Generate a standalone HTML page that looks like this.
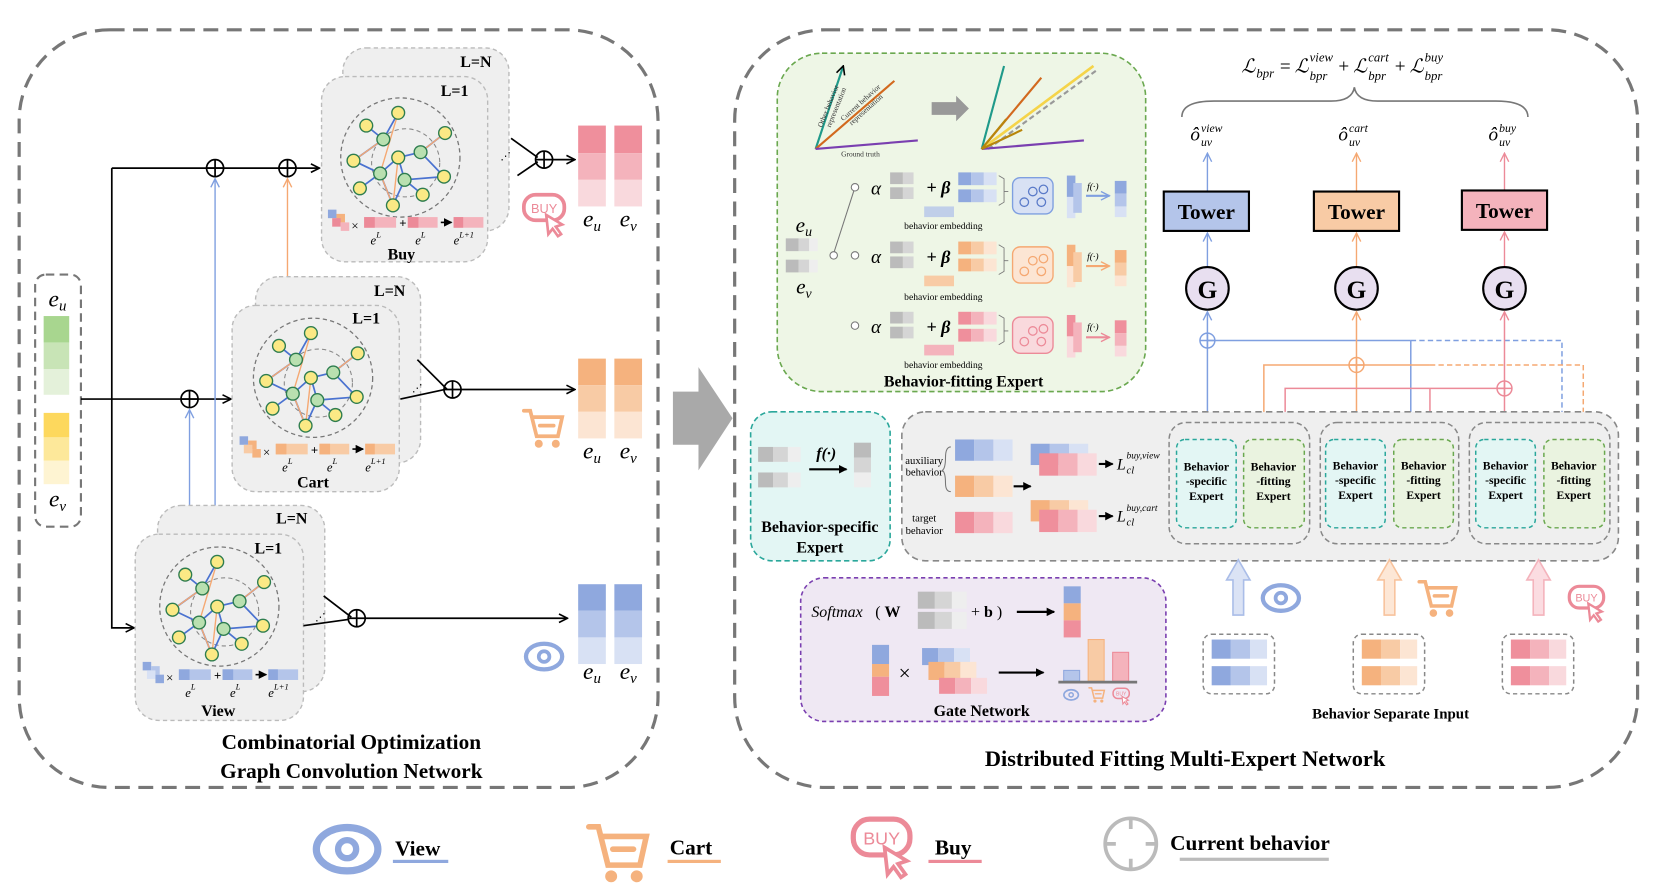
<!DOCTYPE html>
<html><head><meta charset="utf-8"><style>
html,body{margin:0;padding:0;background:#fff;}
svg{display:block;}
text{font-family:"Liberation Serif",serif;}
.b{font-weight:bold;}
.i{font-style:italic;}
.sans{font-family:"Liberation Sans",sans-serif;}
</style></head><body>
<svg width="1661" height="896" viewBox="0 0 1560 842" preserveAspectRatio="none" xmlns="http://www.w3.org/2000/svg">
<defs>
<marker id="ak" markerWidth="10" markerHeight="10" refX="9" refY="5" orient="auto" markerUnits="userSpaceOnUse"><path d="M1,1 L9,5 L1,9" fill="none" stroke="#000" stroke-width="1.5"/></marker>
<marker id="ab" markerWidth="10" markerHeight="10" refX="9" refY="5" orient="auto" markerUnits="userSpaceOnUse"><path d="M1,1 L9,5 L1,9" fill="none" stroke="#7f9fe0" stroke-width="1.3"/></marker>
<marker id="ao" markerWidth="10" markerHeight="10" refX="9" refY="5" orient="auto" markerUnits="userSpaceOnUse"><path d="M1,1 L9,5 L1,9" fill="none" stroke="#f5a872" stroke-width="1.3"/></marker>
<marker id="ap" markerWidth="10" markerHeight="10" refX="9" refY="5" orient="auto" markerUnits="userSpaceOnUse"><path d="M1,1 L9,5 L1,9" fill="none" stroke="#ec8a98" stroke-width="1.3"/></marker>
<marker id="af" markerWidth="8" markerHeight="8" refX="7" refY="4" orient="auto" markerUnits="userSpaceOnUse"><path d="M0,0 L8,4 L0,8z" fill="#000"/></marker>
<g id="graph">
<circle r="56" fill="none" stroke="#777" stroke-dasharray="4 3" stroke-width="1.2"/>
<circle cx="5" cy="5" r="32" fill="none" stroke="#888" stroke-dasharray="4 3" stroke-width="1"/>
<g stroke="#4a72d0" stroke-width="1.6" fill="none">
<path d="M-2,-42 L-16,-17 L-44,3 M-32,-30 L-16,-17 M42,-23 L19,-5 L-2,0 L-19,15 L-44,3 M19,-5 L41,18 M-19,15 L-38,29 M-19,15 L-7,45 L4,21 L41,18 M4,21 L21,35 M-2,0 L4,21"/>
</g>
<g stroke="#f5a872" stroke-width="1.3" fill="none"><path d="M-2,-42 L-19,15 M-44,3 L-16,-17 M42,-23 L19,-5 M-2,0 L-7,45 M-19,15 L-7,45"/></g>
<g stroke="#2e7d4f" stroke-width="1.3">
<circle cx="-2" cy="-42" r="6" fill="#fbe985"/><circle cx="-32" cy="-30" r="6" fill="#fbe985"/><circle cx="42" cy="-23" r="6" fill="#fbe985"/>
<circle cx="-16" cy="-17" r="6" fill="#b9e0b0"/><circle cx="19" cy="-5" r="6" fill="#b9e0b0"/><circle cx="-2" cy="0" r="6" fill="#fbe985"/>
<circle cx="-44" cy="3" r="6" fill="#fbe985"/><circle cx="-19" cy="15" r="6" fill="#b9e0b0"/><circle cx="4" cy="21" r="6" fill="#b9e0b0"/>
<circle cx="41" cy="18" r="6" fill="#fbe985"/><circle cx="-38" cy="29" r="6" fill="#fbe985"/><circle cx="21" cy="35" r="6" fill="#fbe985"/><circle cx="-7" cy="45" r="6" fill="#fbe985"/>
</g>
</g>
<g id="eye"><ellipse rx="17" ry="12" fill="none" stroke="#8fa8de" stroke-width="4"/><circle r="5" fill="none" stroke="#8fa8de" stroke-width="3.5"/></g>
<g id="cart" fill="none" stroke="#f5b27e" stroke-width="3.5" stroke-linecap="round"><path d="M-18,-14 L-12,-14 L-6,10 L14,10 L18,-8 L-10,-8"/><path d="M-3,0 L10,0"/><circle cx="-4" cy="17" r="2" fill="#f5b27e"/><circle cx="12" cy="17" r="2" fill="#f5b27e"/></g>
<g id="buy"><rect x="-19" y="-13" width="38" height="24" rx="11" fill="none" stroke="#ec8a98" stroke-width="3.5"/><text x="0" y="4" text-anchor="middle" font-size="12" fill="#ec8a98" class="sans">BUY</text><path d="M2,6 L4,24 L8,19 L13,26 L16,24 L11,17 L17,15z" fill="#fff" stroke="#ec8a98" stroke-width="2.5"/></g>
<g id="cross"><circle r="7" fill="none" stroke-width="1.4"/><path d="M-7,0 L7,0 M0,-7 L0,7" stroke-width="1.4"/></g>
</defs>

<!-- LEFT PANEL -->
<rect x="18" y="28" width="600" height="712" rx="85" fill="none" stroke="#777" stroke-width="3" stroke-dasharray="14 8"/>
<text x="330" y="704" text-anchor="middle" class="b" font-size="20">Combinatorial Optimization</text>
<text x="330" y="731" text-anchor="middle" class="b" font-size="20">Graph Convolution Network</text>

<rect x="33" y="258" width="43" height="237" rx="10" fill="#fff" stroke="#777" stroke-width="2" stroke-dasharray="8 5"/>
<text x="54" y="288" text-anchor="middle" class="i" font-size="22">e<tspan font-size="14" dy="4">u</tspan></text>
<rect x="41" y="297" width="24" height="25" fill="#a8d68f"/><rect x="41" y="322" width="24" height="25" fill="#c8e4b6"/><rect x="41" y="347" width="24" height="24" fill="#e4f1da"/>
<rect x="41" y="388" width="24" height="23" fill="#fdd85d"/><rect x="41" y="411" width="24" height="22" fill="#fde89a"/><rect x="41" y="433" width="24" height="22" fill="#fef4d2"/>
<text x="54" y="476" text-anchor="middle" class="i" font-size="22">e<tspan font-size="14" dy="4">v</tspan></text>

<g stroke="#000" stroke-width="1.6" fill="none">
<path d="M76,375 L217,375" marker-end="url(#ak)"/>
<path d="M105,158 L105,590 L126,590" marker-end="url(#ak)"/>
<path d="M105,158 L300,158" marker-end="url(#ak)"/>
<circle cx="202" cy="158" r="8"/><path d="M194,158 L210,158 M202,150 L202,166"/>
<circle cx="270" cy="158" r="8"/><path d="M262,158 L278,158 M270,150 L270,166"/>
<circle cx="178" cy="375" r="8"/><path d="M170,375 L186,375 M178,367 L178,383"/>
</g>
<path d="M202,475 L202,168" stroke="#7f9fe0" stroke-width="1.3" marker-end="url(#ab)"/>
<path d="M178,475 L178,385" stroke="#7f9fe0" stroke-width="1.3" marker-end="url(#ab)"/>
<path d="M270,262 L270,168" stroke="#f5a872" stroke-width="1.3" marker-end="url(#ao)"/>

<g stroke="#bbb" stroke-width="1.3" stroke-dasharray="4 3" fill="#efefef">
<rect x="322" y="45" width="156" height="172" rx="22"/>
<rect x="302" y="72" width="156" height="174" rx="22"/>
<rect x="240" y="260" width="155" height="175" rx="22"/>
<rect x="218" y="287" width="157" height="175" rx="22"/>
<rect x="148" y="475" width="157" height="175" rx="22"/>
<rect x="127" y="502" width="158" height="175" rx="22"/>
</g>
<g class="b" font-size="15">
<text x="447" y="63" text-anchor="middle">L=N</text><text x="427" y="90" text-anchor="middle">L=1</text>
<text x="366" y="278" text-anchor="middle">L=N</text><text x="344" y="304" text-anchor="middle">L=1</text>
<text x="274" y="492" text-anchor="middle">L=N</text><text x="252" y="520" text-anchor="middle">L=1</text>
<text x="377" y="244" text-anchor="middle">Buy</text><text x="294" y="458" text-anchor="middle">Cart</text><text x="205" y="673" text-anchor="middle">View</text>
</g>
<use href="#graph" x="376" y="148"/>
<use href="#graph" x="294" y="355"/>
<use href="#graph" x="206" y="570"/>

<g font-size="12">
<g transform="translate(308,197)">
<rect x="0" y="0" width="8" height="8" fill="#8fa8de"/><rect x="8" y="4" width="8" height="8" fill="#f5b27e"/><rect x="4" y="8" width="8" height="8" fill="#ec8a98"/><rect x="12" y="12" width="8" height="8" fill="#f4b3bc"/>
<text x="22" y="19">×</text><rect x="34" y="7" width="30" height="10" fill="#f4b3bc"/><rect x="34" y="7" width="10" height="10" fill="#ec8a98"/>
<text x="67" y="17" class="b">+</text><rect x="75" y="7" width="28" height="10" fill="#f4b3bc"/><rect x="75" y="7" width="10" height="10" fill="#ec8a98"/>
<path d="M106,12 L116,12" stroke="#000" stroke-width="1.5" marker-end="url(#af)"/><rect x="118" y="7" width="28" height="10" fill="#f4b3bc"/><rect x="118" y="7" width="9" height="10" fill="#ec8a98"/>
<text x="40" y="33" class="i">e<tspan font-size="8" dy="-7">L</tspan></text><text x="82" y="33" class="i">e<tspan font-size="8" dy="-7">L</tspan></text><text x="118" y="33" class="i">e<tspan font-size="8" dy="-7">L+1</tspan></text>
</g>
<g transform="translate(225,410)">
<rect x="0" y="0" width="8" height="8" fill="#8fa8de"/><rect x="8" y="4" width="8" height="8" fill="#f5b27e"/><rect x="4" y="8" width="8" height="8" fill="#f8cba5"/><rect x="12" y="12" width="8" height="8" fill="#f5b27e"/>
<text x="22" y="19">×</text><rect x="34" y="7" width="30" height="10" fill="#f8cba5"/><rect x="34" y="7" width="10" height="10" fill="#f5b27e"/>
<text x="67" y="17" class="b">+</text><rect x="75" y="7" width="28" height="10" fill="#f8cba5"/><rect x="75" y="7" width="10" height="10" fill="#f5b27e"/>
<path d="M106,12 L116,12" stroke="#000" stroke-width="1.5" marker-end="url(#af)"/><rect x="118" y="7" width="28" height="10" fill="#f8cba5"/><rect x="118" y="7" width="9" height="10" fill="#f5b27e"/>
<text x="40" y="33" class="i">e<tspan font-size="8" dy="-7">L</tspan></text><text x="82" y="33" class="i">e<tspan font-size="8" dy="-7">L</tspan></text><text x="118" y="33" class="i">e<tspan font-size="8" dy="-7">L+1</tspan></text>
</g>
<g transform="translate(134,622)">
<rect x="0" y="0" width="8" height="8" fill="#8fa8de"/><rect x="8" y="4" width="8" height="8" fill="#b4c5ea"/><rect x="4" y="8" width="8" height="8" fill="#d8e1f4"/><rect x="12" y="12" width="8" height="8" fill="#8fa8de"/>
<text x="22" y="19">×</text><rect x="34" y="7" width="30" height="10" fill="#b4c5ea"/><rect x="34" y="7" width="10" height="10" fill="#8fa8de"/>
<text x="67" y="17" class="b">+</text><rect x="75" y="7" width="28" height="10" fill="#b4c5ea"/><rect x="75" y="7" width="10" height="10" fill="#8fa8de"/>
<path d="M106,12 L116,12" stroke="#000" stroke-width="1.5" marker-end="url(#af)"/><rect x="118" y="7" width="28" height="10" fill="#b4c5ea"/><rect x="118" y="7" width="9" height="10" fill="#8fa8de"/>
<text x="40" y="33" class="i">e<tspan font-size="8" dy="-7">L</tspan></text><text x="82" y="33" class="i">e<tspan font-size="8" dy="-7">L</tspan></text><text x="118" y="33" class="i">e<tspan font-size="8" dy="-7">L+1</tspan></text>
</g>
</g>

<g stroke="#000" stroke-width="1.6" fill="none">
<path d="M480,130 L505,148 M486,165 L505,152"/><path d="M519,150 L540,150" marker-end="url(#ak)"/>
<circle cx="511" cy="150" r="8"/><path d="M503,150 L519,150 M511,142 L511,158"/>
<path d="M392,338 L420,366 M376,375 L418,366"/><path d="M433,366 L540,366" marker-end="url(#ak)"/>
<circle cx="425" cy="366" r="8"/><path d="M417,366 L433,366 M425,358 L425,374"/>
<path d="M304,560 L330,580 M285,588 L328,582"/><path d="M343,581 L533,581" marker-end="url(#ak)"/>
<circle cx="335" cy="581" r="8"/><path d="M327,581 L343,581 M335,573 L335,589"/>
</g>
<text x="470" y="150" font-size="10">⋰</text><text x="387" y="368" font-size="10">⋰</text><text x="296" y="583" font-size="10">⋰</text>
<g>
<rect x="543" y="118" width="26" height="26" fill="#ef8f9c"/><rect x="543" y="144" width="26" height="25" fill="#f4b3bc"/><rect x="543" y="169" width="26" height="25" fill="#f9d9dd"/>
<rect x="577" y="118" width="26" height="26" fill="#ef8f9c"/><rect x="577" y="144" width="26" height="25" fill="#f4b3bc"/><rect x="577" y="169" width="26" height="25" fill="#f9d9dd"/>
<rect x="543" y="337" width="26" height="25" fill="#f5b27e"/><rect x="543" y="362" width="26" height="25" fill="#f8cba5"/><rect x="543" y="387" width="26" height="25" fill="#fce5d3"/>
<rect x="577" y="337" width="26" height="25" fill="#f5b27e"/><rect x="577" y="362" width="26" height="25" fill="#f8cba5"/><rect x="577" y="387" width="26" height="25" fill="#fce5d3"/>
<rect x="543" y="549" width="26" height="25" fill="#8fa8de"/><rect x="543" y="574" width="26" height="25" fill="#b4c5ea"/><rect x="543" y="599" width="26" height="25" fill="#d8e1f4"/>
<rect x="577" y="549" width="26" height="25" fill="#8fa8de"/><rect x="577" y="574" width="26" height="25" fill="#b4c5ea"/><rect x="577" y="599" width="26" height="25" fill="#d8e1f4"/>
</g>
<g class="i" font-size="22" text-anchor="middle">
<text x="556" y="213">e<tspan font-size="14" dy="4">u</tspan></text><text x="590" y="213">e<tspan font-size="14" dy="4">v</tspan></text>
<text x="556" y="431">e<tspan font-size="14" dy="4">u</tspan></text><text x="590" y="431">e<tspan font-size="14" dy="4">v</tspan></text>
<text x="556" y="638">e<tspan font-size="14" dy="4">u</tspan></text><text x="590" y="638">e<tspan font-size="14" dy="4">v</tspan></text>
</g>
<use href="#buy" x="511" y="196"/>
<use href="#cart" x="510" y="400"/>
<use href="#eye" x="511" y="617"/>

<path d="M632,368 L656,368 L656,345 L688,393 L656,442 L656,418 L632,418z" fill="#a9a9a9"/>

<!-- RIGHT PANEL -->
<rect x="690" y="28" width="848" height="712" rx="85" fill="none" stroke="#777" stroke-width="3" stroke-dasharray="14 8"/>
<text x="1113" y="720" text-anchor="middle" class="b" font-size="21">Distributed Fitting Multi-Expert Network</text>

<rect x="730" y="50" width="346" height="318" rx="42" fill="#eef6e6" stroke="#6aa84f" stroke-width="1.5" stroke-dasharray="5 3"/>
<text x="905" y="363" text-anchor="middle" class="b" font-size="15">Behavior-fitting Expert</text>
<g stroke-width="2" fill="none">
<path d="M766,140 L792,62" stroke="#1f9a8a" marker-end="url(#ak)"/>
<path d="M766,140 L840,76" stroke="#d2691e"/>
<path d="M766,140 L862,132" stroke="#7a3fb0"/>
<path d="M922,140 L943,62" stroke="#1f9a8a"/>
<path d="M922,140 L978,73" stroke="#d2691e"/>
<path d="M922,140 L1027,62" stroke="#f5d44a" stroke-width="2.5"/>
<path d="M928,140 L1030,66" stroke="#999" stroke-dasharray="5 3"/>
<path d="M922,140 L1018,132" stroke="#7a3fb0"/>
<path d="M922,140 L945,112" stroke="#b8860b"/><path d="M922,140 L960,122" stroke="#b8860b"/>
</g>
<g font-size="7" fill="#333"><text transform="translate(772,120) rotate(-68)">Other behavior</text><text transform="translate(780,120) rotate(-68)">representation</text>
<text transform="translate(792,114) rotate(-42)">Current behavior</text><text transform="translate(800,118) rotate(-42)">representation</text>
<text x="790" y="147">Ground truth</text></g>
<path d="M875,96 L898,96 L898,90 L910,102 L898,114 L898,108 L875,108z" fill="#999"/>

<text x="755" y="218" text-anchor="middle" class="i" font-size="20">e<tspan font-size="13" dy="4">u</tspan></text>
<rect x="738" y="224" width="12" height="12" fill="#bbb"/><rect x="750" y="224" width="10" height="12" fill="#d5d5d5"/><rect x="760" y="224" width="8" height="12" fill="#eee"/>
<rect x="738" y="244" width="12" height="12" fill="#bbb"/><rect x="750" y="244" width="10" height="12" fill="#d5d5d5"/><rect x="760" y="244" width="8" height="12" fill="#eee"/>
<text x="755" y="276" text-anchor="middle" class="i" font-size="20">e<tspan font-size="13" dy="4">v</tspan></text>
<path d="M783,238 L803,176" stroke="#777" fill="none"/>
<circle cx="783" cy="240" r="3.5" fill="#fff" stroke="#777"/>

<g>
<circle cx="803" cy="176" r="3.5" fill="#fff" stroke="#777"/>
<text x="818" y="183" class="i" font-size="18">α</text>
<rect x="836" y="162" width="12" height="11" fill="#bbb"/><rect x="848" y="162" width="10" height="11" fill="#d5d5d5"/>
<rect x="836" y="176" width="12" height="11" fill="#bbb"/><rect x="848" y="176" width="10" height="11" fill="#d5d5d5"/>
<text x="870" y="182" class="b i" font-size="17">+ β</text>
<rect x="900" y="162" width="12" height="12" fill="#8fa8de"/><rect x="912" y="162" width="12" height="12" fill="#b4c5ea"/><rect x="924" y="162" width="12" height="12" fill="#d8e1f4"/>
<rect x="900" y="178" width="12" height="12" fill="#8fa8de"/><rect x="912" y="178" width="12" height="12" fill="#b4c5ea"/><rect x="924" y="178" width="12" height="12" fill="#d8e1f4"/>
<rect x="868" y="194" width="28" height="10" fill="#b4c5ea" opacity="0.8"/>
<path d="M938,165 L943,168 L943,190 L938,193 M943,180 L947,180" fill="none" stroke="#777" stroke-width="0.8"/>
<rect x="951" y="167" width="38" height="34" rx="7" fill="#d8e1f4" stroke="#7f9fe0" stroke-width="1.3"/>
<g fill="none" stroke="#5a7ac8" stroke-width="1.2"><circle cx="962" cy="190" r="4"/><circle cx="970" cy="180" r="4"/><circle cx="980" cy="178" r="4"/><circle cx="978" cy="190" r="4"/></g>
<rect x="1002" y="165" width="8" height="40" fill="#d8e1f4"/><rect x="1002" y="165" width="8" height="20" fill="#8fa8de"/><rect x="1008" y="172" width="8" height="28" fill="#b4c5ea"/>
<text x="1021" y="178" font-size="9" class="i">f(·)</text>
<path d="M1020,184 L1042,184" stroke="#7f9fe0" stroke-width="2" marker-end="url(#ab)"/>
<rect x="1047" y="170" width="11" height="12" fill="#8fa8de"/><rect x="1047" y="182" width="11" height="12" fill="#b4c5ea"/><rect x="1047" y="194" width="11" height="10" fill="#d8e1f4"/>
<text x="886" y="215" text-anchor="middle" font-size="9">behavior embedding</text>
</g>
<g>
<circle cx="803" cy="240" r="3.5" fill="#fff" stroke="#777"/>
<text x="818" y="247" class="i" font-size="18">α</text>
<rect x="836" y="227" width="12" height="11" fill="#bbb"/><rect x="848" y="227" width="10" height="11" fill="#d5d5d5"/>
<rect x="836" y="241" width="12" height="11" fill="#bbb"/><rect x="848" y="241" width="10" height="11" fill="#d5d5d5"/>
<text x="870" y="247" class="b i" font-size="17">+ β</text>
<rect x="900" y="227" width="12" height="12" fill="#f5b27e"/><rect x="912" y="227" width="12" height="12" fill="#f8cba5"/><rect x="924" y="227" width="12" height="12" fill="#fce5d3"/>
<rect x="900" y="243" width="12" height="12" fill="#f5b27e"/><rect x="912" y="243" width="12" height="12" fill="#f8cba5"/><rect x="924" y="243" width="12" height="12" fill="#fce5d3"/>
<rect x="868" y="259" width="28" height="10" fill="#f8cba5"/>
<path d="M938,230 L943,233 L943,255 L938,258 M943,245 L947,245" fill="none" stroke="#777" stroke-width="0.8"/>
<rect x="951" y="232" width="38" height="34" rx="7" fill="#fce5d3" stroke="#f5a872" stroke-width="1.3"/>
<g fill="none" stroke="#f5a872" stroke-width="1.2"><circle cx="962" cy="255" r="4"/><circle cx="970" cy="245" r="4"/><circle cx="980" cy="243" r="4"/><circle cx="978" cy="255" r="4"/></g>
<rect x="1002" y="230" width="8" height="40" fill="#fce5d3"/><rect x="1002" y="230" width="8" height="20" fill="#f5b27e"/><rect x="1008" y="237" width="8" height="28" fill="#f8cba5"/>
<text x="1021" y="244" font-size="9" class="i">f(·)</text>
<path d="M1020,250 L1042,250" stroke="#f5a872" stroke-width="2" marker-end="url(#ao)"/>
<rect x="1047" y="235" width="11" height="12" fill="#f5b27e"/><rect x="1047" y="247" width="11" height="12" fill="#f8cba5"/><rect x="1047" y="259" width="11" height="10" fill="#fce5d3"/>
<text x="886" y="282" text-anchor="middle" font-size="9">behavior embedding</text>
</g>
<g>
<circle cx="803" cy="306" r="3.5" fill="#fff" stroke="#777"/>
<text x="818" y="313" class="i" font-size="18">α</text>
<rect x="836" y="293" width="12" height="11" fill="#bbb"/><rect x="848" y="293" width="10" height="11" fill="#d5d5d5"/>
<rect x="836" y="307" width="12" height="11" fill="#bbb"/><rect x="848" y="307" width="10" height="11" fill="#d5d5d5"/>
<text x="870" y="313" class="b i" font-size="17">+ β</text>
<rect x="900" y="293" width="12" height="12" fill="#ef8f9c"/><rect x="912" y="293" width="12" height="12" fill="#f4b3bc"/><rect x="924" y="293" width="12" height="12" fill="#f9d9dd"/>
<rect x="900" y="309" width="12" height="12" fill="#ef8f9c"/><rect x="912" y="309" width="12" height="12" fill="#f4b3bc"/><rect x="924" y="309" width="12" height="12" fill="#f9d9dd"/>
<rect x="868" y="324" width="28" height="10" fill="#f4b3bc"/>
<path d="M938,296 L943,299 L943,321 L938,324 M943,311 L947,311" fill="none" stroke="#777" stroke-width="0.8"/>
<rect x="951" y="298" width="38" height="34" rx="7" fill="#f9d9dd" stroke="#ec8a98" stroke-width="1.3"/>
<g fill="none" stroke="#ec8a98" stroke-width="1.2"><circle cx="962" cy="321" r="4"/><circle cx="970" cy="311" r="4"/><circle cx="980" cy="309" r="4"/><circle cx="978" cy="321" r="4"/></g>
<rect x="1002" y="296" width="8" height="40" fill="#f9d9dd"/><rect x="1002" y="296" width="8" height="20" fill="#ef8f9c"/><rect x="1008" y="303" width="8" height="28" fill="#f4b3bc"/>
<text x="1021" y="310" font-size="9" class="i">f(·)</text>
<path d="M1020,317 L1042,317" stroke="#ec8a98" stroke-width="2" marker-end="url(#ap)"/>
<rect x="1047" y="301" width="11" height="12" fill="#ef8f9c"/><rect x="1047" y="313" width="11" height="12" fill="#f4b3bc"/><rect x="1047" y="325" width="11" height="10" fill="#f9d9dd"/>
<text x="886" y="346" text-anchor="middle" font-size="9">behavior embedding</text>
</g>

<!-- loss + towers -->
<g class="i" font-size="18">
<text x="1166" y="68">ℒ</text><text x="1180" y="73" font-size="12">bpr</text>
<text x="1202" y="68" font-style="normal">=</text>
<text x="1216" y="68">ℒ</text><text x="1230" y="75" font-size="12">bpr</text><text x="1230" y="58" font-size="12">view</text>
<text x="1257" y="68" font-style="normal">+</text>
<text x="1271" y="68">ℒ</text><text x="1285" y="75" font-size="12">bpr</text><text x="1285" y="58" font-size="12">cart</text>
<text x="1310" y="68" font-style="normal">+</text>
<text x="1324" y="68">ℒ</text><text x="1338" y="75" font-size="12">bpr</text><text x="1338" y="58" font-size="12">buy</text>
</g>
<path d="M1110,110 Q1110,95 1140,95 L1250,95 Q1270,95 1272,82 Q1274,95 1294,95 L1405,95 Q1435,95 1435,110" fill="none" stroke="#777" stroke-width="1.5"/>
<g class="i">
<text x="1118" y="132" font-size="18">ô</text><text x="1128" y="137" font-size="11">uv</text><text x="1128" y="124" font-size="11">view</text>
<text x="1257" y="132" font-size="18">ô</text><text x="1267" y="137" font-size="11">uv</text><text x="1267" y="124" font-size="11">cart</text>
<text x="1398" y="132" font-size="18">ô</text><text x="1408" y="137" font-size="11">uv</text><text x="1408" y="124" font-size="11">buy</text>
</g>
<path d="M1134,180 L1134,144" stroke="#7f9fe0" stroke-width="1.3" marker-end="url(#ab)"/>
<path d="M1274,180 L1274,144" stroke="#f5a872" stroke-width="1.3" marker-end="url(#ao)"/>
<path d="M1413,180 L1413,144" stroke="#ec8a98" stroke-width="1.3" marker-end="url(#ap)"/>
<rect x="1093" y="180" width="80" height="37" fill="#b4c5ea" stroke="#000" stroke-width="2"/>
<rect x="1234" y="180" width="80" height="37" fill="#f8cba5" stroke="#000" stroke-width="2"/>
<rect x="1373" y="179" width="80" height="37" fill="#f4b3bc" stroke="#000" stroke-width="2"/>
<g class="b" font-size="20" text-anchor="middle"><text x="1133" y="206">Tower</text><text x="1274" y="206">Tower</text><text x="1413" y="205">Tower</text></g>
<path d="M1134,251 L1134,219" stroke="#7f9fe0" stroke-width="1.3" marker-end="url(#ab)"/>
<path d="M1274,251 L1274,219" stroke="#f5a872" stroke-width="1.3" marker-end="url(#ao)"/>
<path d="M1413,251 L1413,218" stroke="#ec8a98" stroke-width="1.3" marker-end="url(#ap)"/>
<g fill="#e8dff0" stroke="#000" stroke-width="2"><circle cx="1134" cy="271" r="20"/><circle cx="1274" cy="271" r="20"/><circle cx="1413" cy="271" r="20"/></g>
<g class="b" font-size="24" text-anchor="middle"><text x="1134" y="280">G</text><text x="1274" y="280">G</text><text x="1413" y="280">G</text></g>

<g fill="none" stroke-width="1.4">
<g stroke="#7f9fe0"><path d="M1134,410 L1134,293" marker-end="url(#ab)"/><path d="M1134,320 L1325,320 M1325,320 L1325,410"/><path d="M1325,320 L1467,320 L1467,410" stroke-dasharray="5 3"/><use href="#cross" x="1134" y="320" stroke="#7f9fe0"/></g>
<g stroke="#f5a872"><path d="M1274,410 L1274,293" marker-end="url(#ao)"/><path d="M1187,410 L1187,343 L1343,343"/><path d="M1343,343 L1487,343 L1487,410" stroke-dasharray="5 3"/><use href="#cross" x="1274" y="343" stroke="#f5a872"/></g>
<g stroke="#ec8a98"><path d="M1413,410 L1413,293" marker-end="url(#ap)"/><path d="M1207,410 L1207,365 L1413,365 M1343,365 L1343,410"/><use href="#cross" x="1413" y="365" stroke="#ec8a98"/></g>
</g>

<rect x="705" y="387" width="131" height="140" rx="20" fill="#e3f6f4" stroke="#2aa79b" stroke-width="1.5" stroke-dasharray="5 3"/>
<rect x="712" y="420" width="14" height="14" fill="#bbb"/><rect x="726" y="420" width="14" height="14" fill="#d5d5d5"/><rect x="740" y="420" width="12" height="14" fill="#eee"/>
<rect x="712" y="444" width="14" height="14" fill="#bbb"/><rect x="726" y="444" width="14" height="14" fill="#d5d5d5"/><rect x="740" y="444" width="12" height="14" fill="#eee"/>
<text x="776" y="431" text-anchor="middle" class="i b" font-size="15">f(·)</text>
<path d="M760,441 L795,441" stroke="#000" stroke-width="2" marker-end="url(#af)"/>
<rect x="802" y="416" width="16" height="14" fill="#bbb"/><rect x="802" y="430" width="16" height="14" fill="#d5d5d5"/><rect x="802" y="444" width="16" height="14" fill="#eee"/>
<text x="770" y="500" text-anchor="middle" class="b" font-size="15">Behavior-specific</text>
<text x="770" y="519" text-anchor="middle" class="b" font-size="15">Expert</text>

<rect x="847" y="387" width="673" height="140" rx="22" fill="#efefef" stroke="#888" stroke-width="1.5" stroke-dasharray="6 4"/>
<text x="868" y="436" text-anchor="middle" font-size="10">auxiliary</text><text x="868" y="447" text-anchor="middle" font-size="10">behavior</text>
<path d="M893,420 Q888,420 888,430 Q888,440 885,442 Q888,444 888,454 Q888,462 893,462" fill="none" stroke="#777"/>
<rect x="897" y="413" width="18" height="20" fill="#8fa8de"/><rect x="915" y="413" width="18" height="20" fill="#b4c5ea"/><rect x="933" y="413" width="18" height="20" fill="#d8e1f4"/>
<rect x="897" y="447" width="18" height="20" fill="#f5b27e"/><rect x="915" y="447" width="18" height="20" fill="#f8cba5"/><rect x="933" y="447" width="18" height="20" fill="#fce5d3"/>
<path d="M952,457 L968,457" stroke="#000" stroke-width="2" marker-end="url(#af)"/>
<text x="868" y="490" text-anchor="middle" font-size="10">target</text><text x="868" y="502" text-anchor="middle" font-size="10">behavior</text>
<rect x="897" y="481" width="18" height="20" fill="#ef8f9c"/><rect x="915" y="481" width="18" height="20" fill="#f4b3bc"/><rect x="933" y="481" width="18" height="20" fill="#f9d9dd"/>
<rect x="968" y="417" width="18" height="20" fill="#8fa8de"/><rect x="986" y="417" width="18" height="20" fill="#b4c5ea"/><rect x="1004" y="417" width="18" height="20" fill="#d8e1f4"/>
<rect x="976" y="426" width="18" height="21" fill="#ef8f9c"/><rect x="994" y="426" width="18" height="21" fill="#f4b3bc"/><rect x="1012" y="426" width="18" height="21" fill="#f9d9dd"/>
<path d="M1032,436 L1045,436" stroke="#000" stroke-width="2" marker-end="url(#af)"/>
<text x="1049" y="441" class="i" font-size="15">L</text><text x="1058" y="445" class="i" font-size="10">cl</text><text x="1058" y="431" class="i" font-size="9">buy,view</text>
<rect x="968" y="470" width="18" height="20" fill="#f5b27e"/><rect x="986" y="470" width="18" height="20" fill="#f8cba5"/><rect x="1004" y="470" width="18" height="20" fill="#fce5d3"/>
<rect x="976" y="479" width="18" height="21" fill="#ef8f9c"/><rect x="994" y="479" width="18" height="21" fill="#f4b3bc"/><rect x="1012" y="479" width="18" height="21" fill="#f9d9dd"/>
<path d="M1032,485 L1045,485" stroke="#000" stroke-width="2" marker-end="url(#af)"/>
<text x="1049" y="490" class="i" font-size="15">L</text><text x="1058" y="494" class="i" font-size="10">cl</text><text x="1058" y="480" class="i" font-size="9">buy,cart</text>

<g fill="none" stroke="#888" stroke-width="1.4" stroke-dasharray="5 3">
<rect x="1098" y="397" width="132" height="114" rx="16"/><rect x="1240" y="397" width="130" height="114" rx="16"/><rect x="1380" y="397" width="132" height="114" rx="16"/>
</g>
<g stroke-width="1.4" stroke-dasharray="4 3">
<rect x="1105" y="413" width="56" height="83" rx="8" fill="#e3f6f4" stroke="#2aa79b"/><rect x="1168" y="413" width="57" height="83" rx="8" fill="#eaf3e0" stroke="#6aa84f"/>
<rect x="1245" y="413" width="56" height="83" rx="8" fill="#e3f6f4" stroke="#2aa79b"/><rect x="1309" y="413" width="56" height="83" rx="8" fill="#eaf3e0" stroke="#6aa84f"/>
<rect x="1386" y="413" width="56" height="83" rx="8" fill="#e3f6f4" stroke="#2aa79b"/><rect x="1450" y="413" width="57" height="83" rx="8" fill="#eaf3e0" stroke="#6aa84f"/>
</g>
<g class="b" font-size="11" text-anchor="middle">
<text x="1133" y="442">Behavior</text><text x="1133" y="456">-specific</text><text x="1133" y="470">Expert</text>
<text x="1196" y="442">Behavior</text><text x="1196" y="456">-fitting</text><text x="1196" y="470">Expert</text>
<text x="1273" y="441">Behavior</text><text x="1273" y="455">-specific</text><text x="1273" y="469">Expert</text>
<text x="1337" y="441">Behavior</text><text x="1337" y="455">-fitting</text><text x="1337" y="469">Expert</text>
<text x="1414" y="441">Behavior</text><text x="1414" y="455">-specific</text><text x="1414" y="469">Expert</text>
<text x="1478" y="441">Behavior</text><text x="1478" y="455">-fitting</text><text x="1478" y="469">Expert</text>
</g>

<rect x="752" y="543" width="343" height="135" rx="22" fill="#efe8f3" stroke="#7a3fb0" stroke-width="1.5" stroke-dasharray="4 3"/>
<text x="762" y="580" class="i" font-size="15">Softmax</text>
<text x="822" y="580" font-size="15">( <tspan class="b">W</tspan></text>
<rect x="862" y="556" width="16" height="16" fill="#bbb"/><rect x="878" y="556" width="16" height="16" fill="#d5d5d5"/><rect x="894" y="556" width="14" height="16" fill="#eee"/>
<rect x="862" y="575" width="16" height="16" fill="#bbb"/><rect x="878" y="575" width="16" height="16" fill="#d5d5d5"/><rect x="894" y="575" width="14" height="16" fill="#eee"/>
<text x="912" y="580" font-size="15">+ <tspan class="b">b</tspan> )</text>
<path d="M955,575 L990,575" stroke="#000" stroke-width="2" marker-end="url(#af)"/>
<rect x="999" y="551" width="16" height="16" fill="#8fa8de"/><rect x="999" y="567" width="16" height="16" fill="#f5b27e"/><rect x="999" y="583" width="16" height="16" fill="#ef8f9c"/>
<rect x="819" y="606" width="16" height="18" fill="#8fa8de"/><rect x="819" y="624" width="16" height="12" fill="#f5b27e"/><rect x="819" y="636" width="16" height="18" fill="#ef8f9c"/>
<text x="844" y="639" font-size="20">×</text>
<rect x="866" y="609" width="15" height="16" fill="#8fa8de"/><rect x="881" y="609" width="15" height="16" fill="#b4c5ea"/><rect x="896" y="609" width="15" height="16" fill="#d8e1f4"/>
<rect x="872" y="622" width="15" height="17" fill="#f5b27e"/><rect x="887" y="622" width="15" height="17" fill="#f8cba5"/><rect x="902" y="622" width="15" height="17" fill="#fce5d3"/>
<rect x="882" y="637" width="15" height="15" fill="#ef8f9c"/><rect x="897" y="637" width="15" height="15" fill="#f4b3bc"/><rect x="912" y="637" width="15" height="15" fill="#f9d9dd"/>
<path d="M938,632 L980,632" stroke="#000" stroke-width="2" marker-end="url(#af)"/>
<rect x="999" y="630" width="15" height="10" fill="#b4c5ea" stroke="#8fa8de"/>
<rect x="1022" y="601" width="15" height="39" fill="#f8cba5" stroke="#f5b27e"/>
<rect x="1045" y="613" width="15" height="27" fill="#f4b3bc" stroke="#ec8a98"/>
<path d="M994,641 L1068,641" stroke="#777" stroke-width="2.5"/>
<use href="#eye" transform="translate(1006,653) scale(0.4)"/>
<use href="#cart" transform="translate(1030,652) scale(0.4)"/>
<use href="#buy" transform="translate(1053,652) scale(0.4)"/>
<text x="922" y="673" text-anchor="middle" class="b" font-size="15">Gate Network</text>

<g stroke-width="1.5">
<path d="M1158,578 L1158,545 L1152,545 L1163,526 L1174,545 L1168,545 L1168,578z" fill="#dbe3f5" stroke="#aabde8"/>
<path d="M1300,578 L1300,545 L1294,545 L1305,526 L1316,545 L1310,545 L1310,578z" fill="#fde7d6" stroke="#f8c39d"/>
<path d="M1440,578 L1440,545 L1434,545 L1445,526 L1456,545 L1450,545 L1450,578z" fill="#fbdce1" stroke="#f4b3bc"/>
</g>
<use href="#eye" x="1203" y="562"/>
<use href="#cart" transform="translate(1350,560) scale(0.95)"/>
<use href="#buy" transform="translate(1490,562) scale(0.85)"/>
<g fill="none" stroke="#888" stroke-width="1.4" stroke-dasharray="4 3">
<rect x="1130" y="596" width="67" height="56" rx="8"/><rect x="1271" y="596" width="67" height="56" rx="8"/><rect x="1411" y="596" width="67" height="56" rx="8"/>
</g>
<rect x="1138" y="601" width="18" height="18" fill="#8fa8de"/><rect x="1156" y="601" width="18" height="18" fill="#b4c5ea"/><rect x="1174" y="601" width="16" height="18" fill="#d8e1f4"/>
<rect x="1138" y="626" width="18" height="18" fill="#8fa8de"/><rect x="1156" y="626" width="18" height="18" fill="#b4c5ea"/><rect x="1174" y="626" width="16" height="18" fill="#d8e1f4"/>
<rect x="1279" y="601" width="18" height="18" fill="#f5b27e"/><rect x="1297" y="601" width="18" height="18" fill="#f8cba5"/><rect x="1315" y="601" width="16" height="18" fill="#fce5d3"/>
<rect x="1279" y="626" width="18" height="18" fill="#f5b27e"/><rect x="1297" y="626" width="18" height="18" fill="#f8cba5"/><rect x="1315" y="626" width="16" height="18" fill="#fce5d3"/>
<rect x="1419" y="601" width="18" height="18" fill="#ef8f9c"/><rect x="1437" y="601" width="18" height="18" fill="#f4b3bc"/><rect x="1455" y="601" width="16" height="18" fill="#f9d9dd"/>
<rect x="1419" y="626" width="18" height="18" fill="#ef8f9c"/><rect x="1437" y="626" width="18" height="18" fill="#f4b3bc"/><rect x="1455" y="626" width="16" height="18" fill="#f9d9dd"/>
<text x="1306" y="675" text-anchor="middle" class="b" font-size="14">Behavior Separate Input</text>

<use href="#eye" transform="translate(326,798) scale(1.7)"/>
<text x="371" y="804" class="b" font-size="20">View</text><rect x="369" y="808" width="52" height="3" fill="#8fa8de"/>
<use href="#cart" transform="translate(580,798) scale(1.5)"/>
<text x="629" y="803" class="b" font-size="20">Cart</text><rect x="627" y="808" width="50" height="3" fill="#f5b27e"/>
<use href="#buy" transform="translate(828,788) scale(1.4)"/>
<text x="878" y="803" class="b" font-size="20">Buy</text><rect x="872" y="808" width="50" height="3" fill="#ec8a98"/>
<g transform="translate(1062,793)" fill="none" stroke="#bbb" stroke-width="3.5"><circle r="24"/><path d="M-24,0 L-14,0 M14,0 L24,0 M0,-24 L0,-14 M0,14 L0,24"/></g>
<text x="1099" y="799" class="b" font-size="20">Current behavior</text><rect x="1108" y="806" width="140" height="3" fill="#bbb"/>
</svg>
</body></html>
